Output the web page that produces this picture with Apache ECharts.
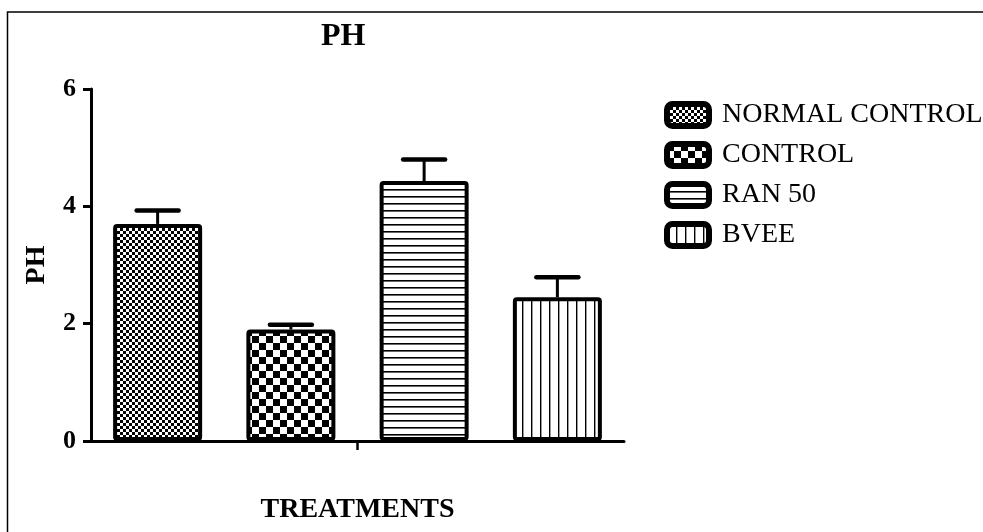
<!DOCTYPE html>
<html>
<head>
<meta charset="utf-8">
<script src="https://cdn.jsdelivr.net/npm/echarts@6/dist/echarts.min.js"></script>
<style>
  html, body { margin: 0; padding: 0; background: #fff; }
  #chart { width: 983px; height: 532px; }
</style>
</head>
<body>
<div id="chart"></div>
<script>
// data
const groups = ['NORMAL CONTROL', 'CONTROL', 'RAN 50', 'BVEE'];
const means = [3.70, 1.90, 4.43, 2.45];
const upperErr = [3.93, 1.98, 4.80, 2.79];
const yTicks = [0, 2, 4, 6];

let chart = echarts.init(document.getElementById('chart'));
const serif = 'Liberation Serif';

// 填充图案
function makePattern(w, h, draw) {
    let c = document.createElement('canvas');
    c.width = w;
    c.height = h;
    let ctx = c.getContext('2d');
    ctx.fillStyle = '#fff';
    ctx.fillRect(0, 0, w, h);
    ctx.fillStyle = '#000';
    draw(ctx);
    return {image: c, repeat: 'repeat'};
}

const patterns = [
    makePattern(6, 6, ctx => { ctx.fillRect(0, 0, 3, 3); ctx.fillRect(3, 3, 3, 3); }),
    makePattern(14, 14, ctx => { ctx.fillRect(0, 0, 7, 7); ctx.fillRect(7, 7, 7, 7); }),
    makePattern(8, 7.3, ctx => { ctx.fillRect(0, 0, 8, 1.6); }),
    makePattern(9.2, 8, ctx => { ctx.fillRect(0, 0, 1.4, 8); })
];

let barSeries = groups.map((name, i) => ({
    name: name,
    type: 'bar',
    stack: 'all',
    barWidth: 89,
    data: means.map((v, j) => j === i ? v : null),
    itemStyle: {
        color: patterns[i],
        borderColor: '#000',
        borderWidth: 4,
        borderRadius: 2
    },
    emphasis: {disabled: true}
}));

// 误差线（只画上半）
let errorSeries = {
    type: 'custom',
    xAxisIndex: 0,
    data: means.map((v, i) => [i, v, upperErr[i]]),
    renderItem: function (params, api) {
        let base = api.coord([api.value(0), api.value(1)]);
        let top = api.coord([api.value(0), api.value(2)]);
        let half = 21;
        return {
            type: 'group',
            children: [
                {type: 'line', shape: {x1: base[0], y1: base[1], x2: top[0], y2: top[1]},
                    style: {stroke: '#000', lineWidth: 3}},
                {type: 'line', shape: {x1: top[0] - half, y1: top[1], x2: top[0] + half, y2: top[1]},
                    style: {stroke: '#000', lineWidth: 4.5, lineCap: 'round'}}
            ]
        };
    },
    silent: true,
    z: 3
};

let option = {
    animation: false,
    backgroundColor: '#fff',
    title: {
        text: 'PH',
        left: 316,
        top: 16,
        textStyle: {fontFamily: serif, fontSize: 32, fontWeight: 'bold', color: '#000'}
    },
    legend: {
        orient: 'vertical',
        left: 659,
        top: 96,
        itemWidth: 42,
        itemHeight: 22,
        itemGap: 12,
        icon: 'roundRect',
        data: groups,
        itemStyle: {borderColor: '#000', borderWidth: 6},
        textStyle: {fontFamily: serif, fontSize: 28, color: '#000', padding: [0, 0, 0, 8]}
    },
    graphic: [{
        type: 'rect',
        shape: {x: 7.5, y: 12, width: 1100, height: 700},
        style: {fill: 'none', stroke: '#000', lineWidth: 1.5},
        silent: true
    }],
    grid: {left: 91, right: 359, top: 89, bottom: 91, outerBoundsMode: 'none'},
    xAxis: [{
        type: 'category',
        data: groups,
        axisLine: {lineStyle: {color: '#000', width: 3}},
        axisTick: {show: false},
        axisLabel: {show: false},
        name: 'TREATMENTS',
        nameLocation: 'middle',
        nameGap: 55,
        nameTextStyle: {fontFamily: serif, fontSize: 28, fontWeight: 'bold', color: '#000'}
    }, {
        // 中间那一个刻度
        type: 'value',
        position: 'bottom',
        min: 0,
        max: 1,
        axisLine: {show: false},
        splitLine: {show: false},
        axisLabel: {show: false},
        axisTick: {show: true, customValues: [0.5], length: 9, lineStyle: {color: '#000', width: 2.5}}
    }],
    yAxis: {
        type: 'value',
        min: yTicks[0],
        max: yTicks[yTicks.length - 1],
        interval: 2,
        splitLine: {show: false},
        axisLine: {show: true, lineStyle: {color: '#000', width: 3}},
        axisTick: {show: true, length: 8, lineStyle: {color: '#000', width: 3}},
        axisLabel: {fontFamily: serif, fontSize: 26, fontWeight: 'bold', color: '#000', margin: 15},
        name: 'PH',
        nameLocation: 'middle',
        nameRotate: 90,
        nameGap: 40,
        nameTextStyle: {fontFamily: serif, fontSize: 28, fontWeight: 'bold', color: '#000'}
    },
    series: barSeries.concat([errorSeries])
};

chart.setOption(option);
</script>
</body>
</html>
